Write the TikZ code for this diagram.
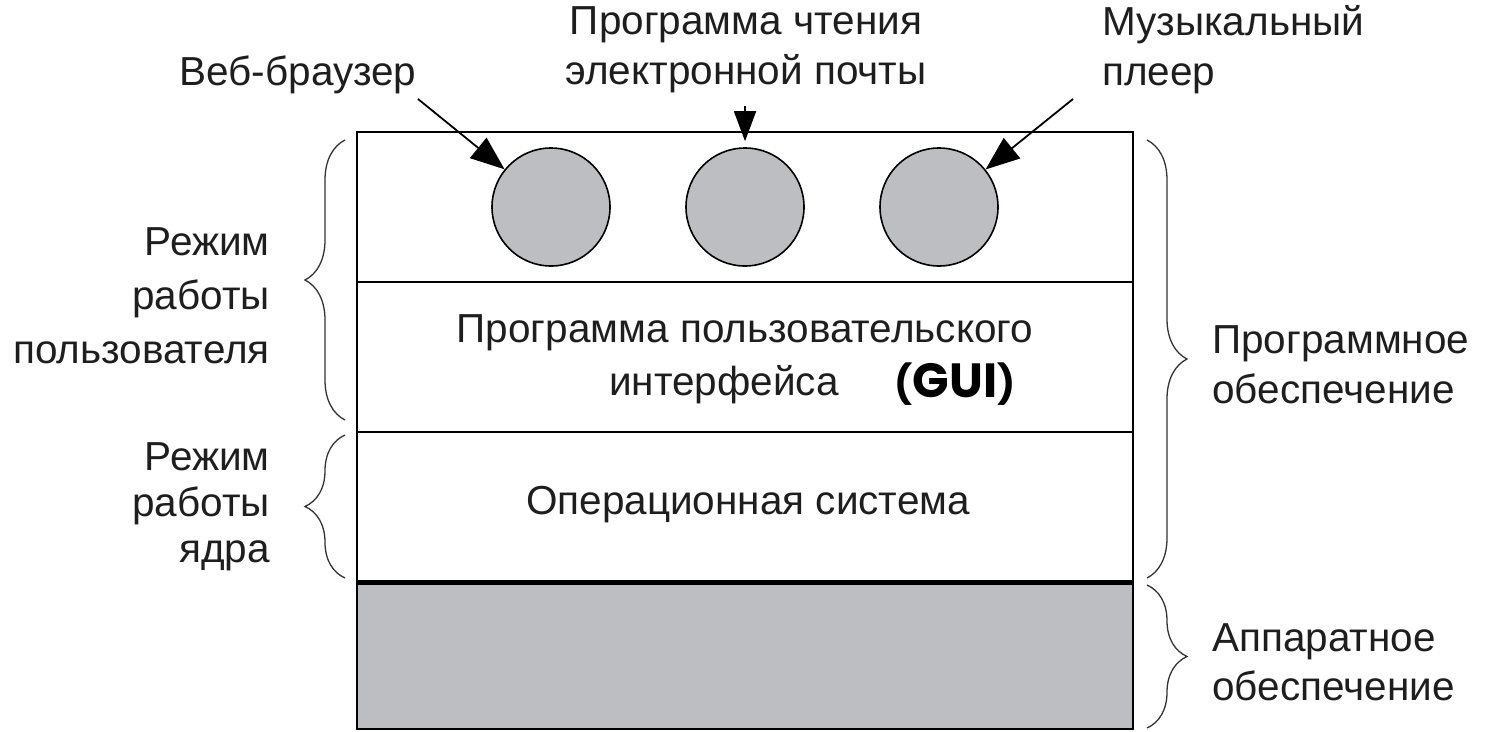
\documentclass[tikz,border=0pt]{standalone}
\usepackage{fontspec}
\setmainfont{Liberation Sans}
\newfontfamily\guifont{Poppins}
\usetikzlibrary{arrows.meta,decorations.pathreplacing}
\definecolor{fillgray}{HTML}{BCBEC1}
\definecolor{textgray}{HTML}{1E1E1E}
\begin{document}
\begin{tikzpicture}[x=1pt,y=-1pt,
  layer/.style={draw=black,line width=2pt,minimum width=776pt,minimum height=150pt,inner sep=0pt},
  app/.style={circle,draw=black,line width=1.6pt,fill=fillgray,minimum size=118pt,inner sep=0pt},
  lbl/.style={inner sep=0pt,text=textgray,font=\fontsize{40.5}{50}\selectfont},
  arr/.style={line width=1.8pt,-{Triangle[length=34pt,width=26pt]}},
  brc/.style={decorate,decoration={brace,amplitude=40pt},line width=1.3pt,draw=black!80}
]
\useasboundingbox (0,0) rectangle (1486,731);
% layers
\node[layer] (apps) at (745,207) {};
\node[layer] (gui) at (745,357) {};
\node[layer] (os) at (745,506.5) {};
\node[layer,fill=fillgray,minimum height=148pt] (hw) at (745,655) {};
\draw[line width=4pt] (os.south west) -- (os.south east);
% application circles
\node[app] (c1) at (551,207) {};
\node[app] (c2) at (745,207) {};
\node[app] (c3) at (939,207) {};
% top labels
\node[lbl] (wb) at (298,75) {Веб-браузер};
\node[lbl,align=center] (mail) at (746,50) {Программа чтения\\электронной почты};
\node[lbl,align=left,anchor=west] (mp) at (1102,50) {Музыкальный\\плеер};
\coordinate (s1) at (418,99);
\coordinate (s2) at (745,106);
\coordinate (s3) at (1073,99);
\draw[arr] (s1) -- (c1);
\draw[arr,-{Triangle[length=30pt,width=22pt]},shorten >=6pt] (s2) -- (c2);
\draw[arr] (s3) -- (c3);
% layer texts
\node[lbl] (guit1) at (745,333) {Программа пользовательского};
\node[lbl] (guit2) at (724,385) {интерфейса};
\node[inner sep=0pt] (guit3) at (955,384) {{\guifont\bfseries\fontsize{38}{50}\selectfont(}{\guifont\bfseries\fontsize{48}{50}\selectfont GUI}{\guifont\bfseries\fontsize{38}{50}\selectfont)}};
\node[lbl] (ost) at (748,505) {Операционная система};
% side labels
\node[lbl,align=right,anchor=east,font=\fontsize{40.5}{54}\selectfont] (um) at (270,296) {Режим\\работы\\пользователя};
\node[lbl,align=right,anchor=east,font=\fontsize{40.5}{46}\selectfont] (km) at (270,507) {Режим\\работы\\ядра};
\node[lbl,align=left,anchor=west] (sw) at (1212,365) {Программное\\обеспечение};
\node[lbl,align=left,anchor=west,font=\fontsize{40.5}{49}\selectfont] (hwl) at (1212,662) {Аппаратное\\обеспечение};
% braces
\draw[brc] (345,420) -- (345,140);
\draw[brc] (345,578) -- (345,435);
\draw[brc] (1147,140) -- (1147,578);
\draw[brc] (1147,585) -- (1147,728);
\end{tikzpicture}
\end{document}
